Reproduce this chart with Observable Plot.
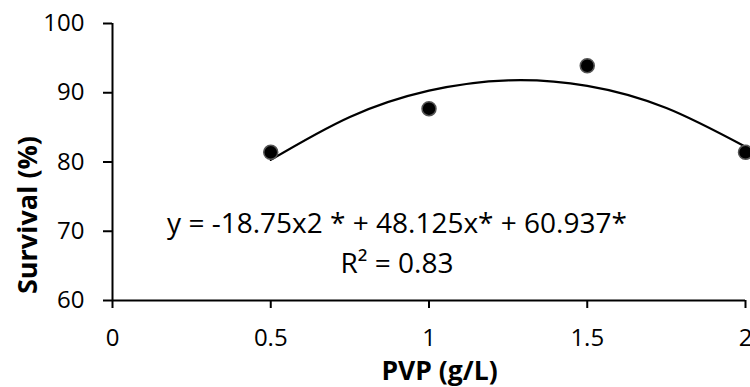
<!DOCTYPE html>
<html>
<head>
<meta charset="utf-8">
<script src="https://cdn.jsdelivr.net/npm/d3@7"></script>
<script src="https://cdn.jsdelivr.net/npm/@observablehq/plot@0.6"></script>
<style>
  html, body { margin: 0; padding: 0; background: #fff; }
  #chart svg { display: block; }
</style>
</head>
<body>
<div id="chart"></div>
<script>
// Observed data
const pvp = [0.5, 1, 1.5, 2];
const survival = [81.4, 87.7, 93.9, 81.4];

// Trendline (polynomial fit)
const fitX = [0.5, 0.75, 1, 1.25, 1.5, 1.75, 2];
const fitY = [80.3, 86.5, 90.3, 91.8, 91.0, 87.8, 82.2];

// Axis ticks and texts
const xTicks = [0, 0.5, 1, 1.5, 2];
const yTicks = [60, 70, 80, 90, 100];
const xTitle = "PVP (g/L)";
const yTitle = "Survival (%)";
const equation = "y = -18.75x2 * + 48.125x* + 60.937*";
const rSquared = "R² = 0.83";

const points = pvp.map((x, i) => ({x, y: survival[i]}));
const fit = fitX.map((x, i) => ({x, y: fitY[i]}));

const font = "'Open Sans', sans-serif";

const chart = Plot.plot({
  width: 750,
  height: 387,
  marginLeft: 112,
  marginRight: 5,
  marginTop: 23,
  marginBottom: 87,
  style: {fontFamily: font, fontSize: "24px", color: "#000", background: "#fff", overflow: "visible"},
  x: {domain: [0, 2]},
  y: {domain: [60, 100]},
  marks: [
    Plot.axisX({ticks: xTicks, tickSize: 8, tickPadding: 20, strokeWidth: 2, fontSize: 24, label: null, tickFormat: d => String(d)}),
    Plot.axisY({ticks: yTicks, tickSize: 9, tickPadding: 19, strokeWidth: 2, fontSize: 24, label: null}),
    Plot.ruleX([0], {y1: 60, y2: 100, stroke: "#000", strokeWidth: 2}),
    Plot.ruleY([60], {x1: 0, x2: 2, stroke: "#000", strokeWidth: 2}),
    Plot.line(fit, {x: "x", y: "y", curve: "natural", stroke: "#000", strokeWidth: 2.2}),
    Plot.dot(points, {x: "x", y: "y", r: 7, fill: "#000", stroke: "#555", strokeWidth: 1.5}),
    Plot.text([equation], {frameAnchor: "top", textAnchor: "middle", dx: -32, dy: 201, fontSize: 28, fill: "#000", lineAnchor: "middle"}),
    Plot.text([rSquared], {frameAnchor: "top", textAnchor: "middle", dx: -32, dy: 241, fontSize: 28, fill: "#000", lineAnchor: "middle"}),
    Plot.text([xTitle], {frameAnchor: "bottom", textAnchor: "middle", dx: 10.5, dy: 71, fontSize: 26.5, fontWeight: "bold", fill: "#000", lineAnchor: "middle"}),
    Plot.text([yTitle], {frameAnchor: "left", textAnchor: "middle", dx: -84, dy: 53, rotate: -90, fontSize: 27, fontWeight: "bold", fill: "#000", lineAnchor: "middle"})
  ]
});
document.getElementById("chart").appendChild(chart);
</script>
</body>
</html>
